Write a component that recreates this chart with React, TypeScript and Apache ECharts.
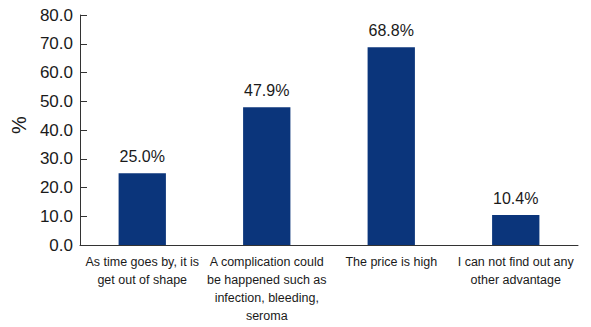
import React, { useEffect, useRef } from "react";
import * as echarts from "echarts";

const categories = [
  "As time goes by, it is\nget out of shape",
  "A complication could\nbe happened such as\ninfection, bleeding,\nseroma",
  "The price is high",
  "I can not find out any\nother advantage",
];
const percentages = [25.0, 47.9, 68.8, 10.4];
const yTicks = { min: 0, max: 80, interval: 10 };

const FONT = "'Liberation Sans', Arial, Helvetica, sans-serif";
const INK = "#1a1a1a";

export default function App() {
  const ref = useRef<HTMLDivElement>(null);

  useEffect(() => {
    document.body.style.margin = "0";
    document.body.style.overflow = "hidden";
    if (!ref.current) return;
    const chart = echarts.init(ref.current, undefined, { renderer: "svg" });
    chart.setOption({
      animation: false,
      grid: { left: 80, right: 13, top: 15, bottom: 82, containLabel: false },
      xAxis: {
        type: "category",
        data: categories,
        boundaryGap: true,
        axisLine: { lineStyle: { color: "#333", width: 1 } },
        axisTick: { inside: true, length: 6, lineStyle: { color: "#333" } },
        axisLabel: {
          interval: 0,
          margin: 8,
          color: INK,
          fontFamily: FONT,
          fontSize: 12.5,
          lineHeight: 18,
        },
      },
      yAxis: {
        type: "value",
        min: yTicks.min,
        max: yTicks.max,
        interval: yTicks.interval,
        name: "%",
        nameLocation: "middle",
        nameGap: 48,
        nameRotate: 90,
        nameTextStyle: { color: INK, fontFamily: FONT, fontSize: 20, padding: [0, 0, 0, 10] },
        splitLine: { show: false },
        axisLine: { show: true, lineStyle: { color: "#333", width: 1 } },
        axisTick: { show: true, inside: true, length: 7, lineStyle: { color: "#333" } },
        axisLabel: {
          color: INK,
          fontFamily: FONT,
          fontSize: 17,
          margin: 7,
          formatter: (v: number) => v.toFixed(1),
        },
      },
      series: [
        {
          type: "bar",
          data: percentages,
          barWidth: "38%",
          itemStyle: { color: "#0b357b" },
          label: {
            show: true,
            position: "top",
            distance: 9,
            color: INK,
            fontFamily: FONT,
            fontSize: 16,
            formatter: (p: any) => `${Number(p.value).toFixed(1)}%`,
          },
        },
      ],
    });
    return () => chart.dispose();
  }, []);

  return <div ref={ref} style={{ width: 591, height: 327, background: "#fff" }} />;
}
